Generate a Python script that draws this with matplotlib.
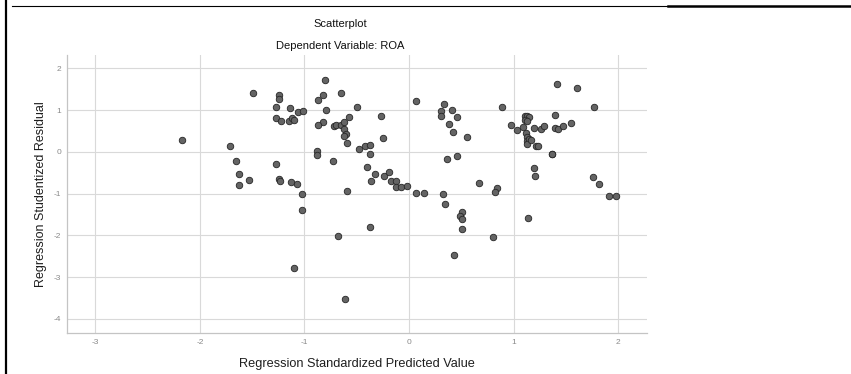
import matplotlib
matplotlib.use("Agg")
import matplotlib.pyplot as plt
from matplotlib.lines import Line2D

# Regression Standardized Predicted Value
pred = [
    -2.17, -1.71, -1.65, -1.625, -1.625, -1.53, -1.49, -1.24, -1.24, -1.275,
    -1.27, -1.22, -1.14, -1.15, -1.12, -1.10, -1.06, -1.01, -1.27, -1.24,
    -1.23, -1.13, -1.07, -1.02, -1.02, -1.10,
    -0.80, -0.82, -0.87, -0.65, -0.50, -0.79, -0.27, -0.57, -0.82, -0.87,
    -0.72, -0.695, -0.65, -0.62, -0.62, -0.605, -0.62, -0.25, -0.59, -0.48,
    -0.42, -0.37, -0.375, -0.88, -0.88, -0.73, -0.40, -0.33, -0.36, -0.24,
    -0.19, -0.175, -0.125, -0.125, -0.08, -0.015, -0.59, -0.37, -0.68, -0.61,
    0.067, 0.064, 0.143, 0.33, 0.306, 0.306, 0.415, 0.456, 0.382, 0.424,
    0.557, 0.36, 0.46, 0.32, 0.344, 0.51, 0.49, 0.507, 0.51, 0.427,
    0.67, 0.844, 0.822, 0.80, 0.889,
    0.972, 1.035, 1.093, 1.109, 1.131, 1.147, 1.106, 1.125, 1.115, 1.13,
    1.125, 1.15, 1.13, 1.17, 1.214, 1.233, 1.198, 1.262, 1.29, 1.40,
    1.42, 1.47, 1.55, 1.40, 1.41, 1.606, 1.766, 1.364, 1.37, 1.19,
    1.20, 1.14, 1.76, 1.82, 1.91, 1.975,
]
# Regression Studentized Residual
resid = [
    0.28, 0.14, -0.23, -0.52, -0.80, -0.67, 1.42, 1.37, 1.27, 1.08,
    0.82, 0.73, 1.06, 0.74, 0.80, 0.76, 0.95, 0.98, -0.30, -0.66,
    -0.69, -0.73, -0.76, -1.00, -1.40, -2.79,
    1.73, 1.35, 1.23, 1.40, 1.08, 1.01, 0.87, 0.83, 0.72, 0.64,
    0.63, 0.64, 0.64, 0.72, 0.54, 0.42, 0.38, 0.33, 0.20, 0.07,
    0.14, 0.155, -0.04, 0.03, -0.07, -0.22, -0.36, -0.52, -0.70, -0.57,
    -0.48, -0.70, -0.70, -0.84, -0.85, -0.82, -0.94, -1.80, -2.01, -3.52,
    1.22, -0.98, -0.98, 1.15, 0.97, 0.87, 1.00, 0.83, 0.66, 0.47,
    0.36, -0.16, -0.11, -1.02, -1.26, -1.45, -1.53, -1.62, -1.85, -2.47,
    -0.74, -0.87, -0.96, -2.04, 1.07,
    0.635, 0.53, 0.60, 0.866, 0.866, 0.83, 0.76, 0.74, 0.44, 0.36,
    0.26, 0.31, 0.18, 0.28, 0.146, 0.146, 0.58, 0.54, 0.63, 0.58,
    0.55, 0.62, 0.70, 0.875, 1.62, 1.52, 1.08, -0.05, -0.06, -0.38,
    -0.58, -1.58, -0.60, -0.77, -1.05, -1.05,
]
x_ticks = [-3, -2, -1, 0, 1, 2]
y_ticks = [-4, -3, -2, -1, 0, 1, 2]

plt.rcParams['font.family'] = ['Liberation Sans', 'DejaVu Sans']

W, H = 851, 374
fig = plt.figure(figsize=(W / 100, H / 100), dpi=100)
fig.patch.set_facecolor('white')

ax = fig.add_axes([67 / W, 1 - 333 / H, (647 - 67) / W, (333 - 55) / H])
ax.set_xlim(-3.27, 2.275)
ax.set_ylim(-4.34, 2.32)
ax.set_xticks(x_ticks)
ax.set_yticks(y_ticks)
ax.set_xticklabels([str(t) for t in x_ticks])
ax.set_yticklabels([str(t) for t in y_ticks])
ax.grid(True, color='#d9d9d9', linewidth=0.8)
ax.set_axisbelow(True)
for s in ['top', 'right']:
    ax.spines[s].set_visible(False)
for s in ['left', 'bottom']:
    ax.spines[s].set_color('#c4c4c4')
    ax.spines[s].set_linewidth(0.9)
ax.tick_params(length=0, labelsize=6, labelcolor='#8a8a8a', pad=4)

ax.scatter(pred, resid, s=22, facecolor='#646464', edgecolor='#262626',
           linewidth=0.6, zorder=3)

ax.set_xlabel('Regression Standardized Predicted Value', fontsize=9.2,
              color='#1e1e1e', labelpad=9)
ax.set_ylabel('Regression Studentized Residual', fontsize=9,
              color='#1e1e1e', labelpad=5)

fig.text(340 / W, 1 - 24 / H, 'Scatterplot', ha='center', va='center',
         fontsize=8, color='#111111')
fig.text(340 / W, 1 - 46 / H, 'Dependent Variable: ROA', ha='center',
         va='center', fontsize=8, color='#111111')

# surrounding table border
fig.add_artist(Line2D([6 / W, 6 / W], [0, 1], color='black',
                      linewidth=1.6, transform=fig.transFigure))
fig.add_artist(Line2D([12 / W, 668 / W], [1 - 6 / H, 1 - 6 / H],
                      color='black', linewidth=0.8, transform=fig.transFigure))
fig.add_artist(Line2D([668 / W, 1], [1 - 6 / H, 1 - 6 / H],
                      color='black', linewidth=1.8, transform=fig.transFigure))

fig.savefig('out.png', dpi=100)
